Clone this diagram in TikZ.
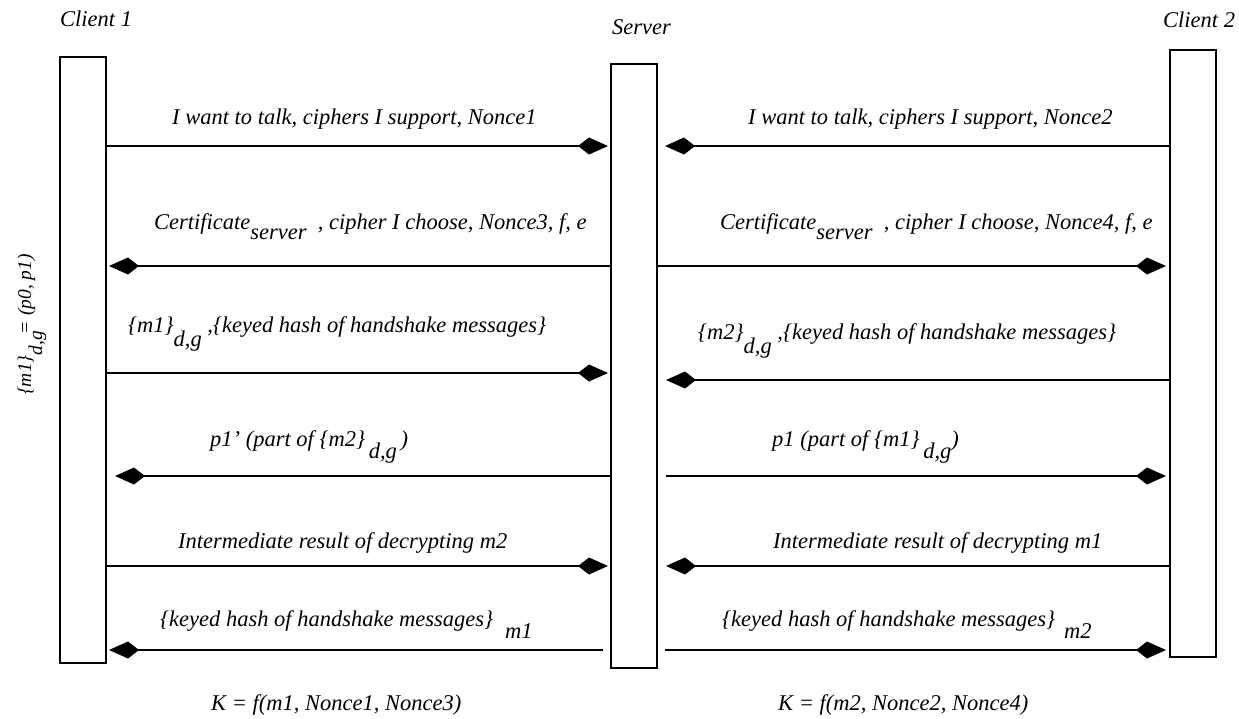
\documentclass[tikz,border=0pt]{standalone}
\usepackage{fontspec}
\setmainfont{Liberation Serif}
\usetikzlibrary{arrows.meta}
\tikzset{>={Kite[length=30pt,width=17pt,inset=11pt]}}
\tikzset{
  lifeline/.style={draw,line width=2pt,minimum width=46pt,inner sep=0pt,anchor=north west},
  msg/.style={line width=2pt,->},
  lbl/.style={font=\itshape\fontsize{22.5}{26}\selectfont,inner sep=0pt,anchor=base west},
}
\newcommand{\dn}[2][10pt]{\raisebox{-#1}{#2}}

\begin{document}
\begin{tikzpicture}[x=1pt,y=-1pt]
    \useasboundingbox (0,0) rectangle (1239,718);
    % the three parties
    \node[lifeline,minimum height=606pt] (c1) at (59,56) {};
    \node[lifeline,minimum height=604pt] (srv) at (610,63) {};
    \node[lifeline,minimum height=607pt] (c2) at (1169,49) {};
    \node[lbl] (c1name) at (60,26) {Client 1};
    \node[lbl] (srvname) at (612,34) {Server};
    \node[lbl] (c2name) at (1163,27) {Client 2};
    \node[lbl,rotate=90,font=\itshape\fontsize{19.5}{22}\selectfont] (split) at (31,395) {\{m1\}\dn[11pt]{d,g}\hspace{-3pt}= (p0, p1)};
    % message rows
    \coordinate (r1) at (0,146);
    \coordinate (r2) at (0,266);
    \coordinate (r3) at (0,373);
    \coordinate (r3b) at (0,380);
    \coordinate (r4) at (0,476);
    \coordinate (r5) at (0,566);
    \coordinate (r6) at (0,650);
    % left half
    \draw[msg] (c1.east |- r1) -- ([xshift=-2pt]srv.west |- r1);
    \draw[msg] (srv.west |- r2) -- ([xshift=2pt]c1.east |- r2);
    \draw[msg] (c1.east |- r3) -- ([xshift=-2pt]srv.west |- r3);
    \draw[msg] (srv.west |- r4) -- ([xshift=8pt]c1.east |- r4);
    \draw[msg] (c1.east |- r5) -- ([xshift=-2pt]srv.west |- r5);
    \draw[msg] ([xshift=-7pt]srv.west |- r6) -- ([xshift=2pt]c1.east |- r6);
    % right half
    \draw[msg] (c2.west |- r1) -- ([xshift=7pt]srv.east |- r1);
    \draw[msg] (srv.east |- r2) -- ([xshift=-3pt]c2.west |- r2);
    \draw[msg] (c2.west |- r3b) -- ([xshift=8pt]srv.east |- r3b);
    \draw[msg] ([xshift=8pt]srv.east |- r4) -- ([xshift=-3pt]c2.west |- r4);
    \draw[msg] (c2.west |- r5) -- ([xshift=8pt]srv.east |- r5);
    \draw[msg] ([xshift=7pt]srv.east |- r6) -- ([xshift=-3pt]c2.west |- r6);
    % labels
    \node[lbl] (m1l) at (172,124) {I want to talk, ciphers I support, Nonce1};
    \node[lbl] (m1r) at (748,124) {I want to talk, ciphers I support, Nonce2};
    \node[lbl] (m2l) at (154,229) {Certificate\dn{server}\ \ , cipher I choose, Nonce3, f, e};
    \node[lbl] (m2r) at (720,229) {Certificate\dn{server}\ \ , cipher I choose, Nonce4, f, e};
    \node[lbl] (m3l) at (128,332) {\{m1\}\dn[14pt]{d,g} ,\{keyed hash of handshake messages\}};
    \node[lbl] (m3r) at (698,339) {\{m2\}\dn[14pt]{d,g} ,\{keyed hash of handshake messages\}};
    \node[lbl] (m4l) at (210,446) {p1’ (part of \{m2\}\,\dn[12pt]{d,g}\,)};
    \node[lbl] (m4r) at (772,446) {p1 (part of \{m1\}\,\dn[12pt]{d,g})};
    \node[lbl] (m5l) at (178,548) {Intermediate result of decrypting m2};
    \node[lbl] (m5r) at (773,548) {Intermediate result of decrypting m1};
    \node[lbl] (m6l) at (160,626) {\{keyed hash of handshake messages\}\hspace{12pt}\dn[12pt]{m1}};
    \node[lbl] (m6r) at (722,626) {\{keyed hash of handshake messages\}\hspace{9pt}\dn[12pt]{m2}};
    % session keys
    \node[lbl] (k1) at (211,710) {K = f(m1, Nonce1, Nonce3)};
    \node[lbl] (k2) at (778,710) {K = f(m2, Nonce2, Nonce4)};
\end{tikzpicture}
\end{document}
